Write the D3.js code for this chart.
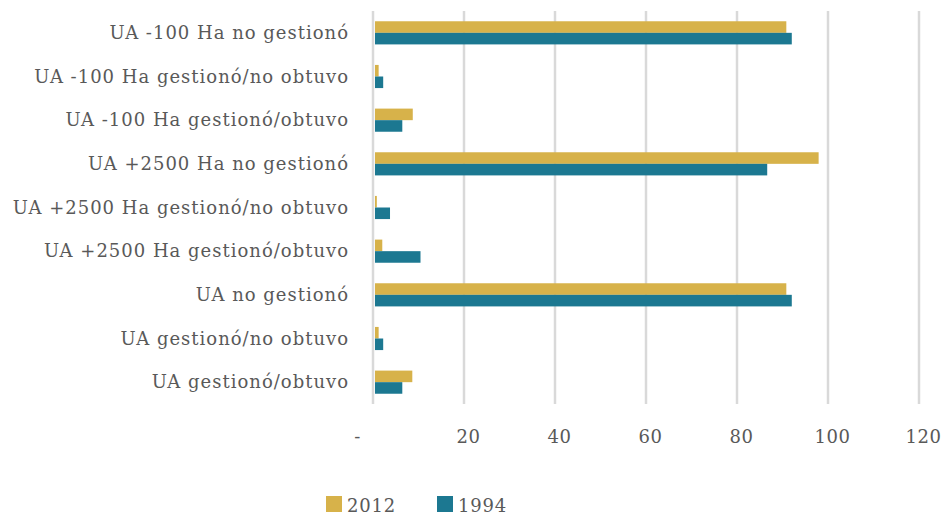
<!DOCTYPE html>
<html lang="es">
<head>
<meta charset="UTF-8">
<title>UA gestión 2012 vs 1994</title>
<script src="https://cdn.jsdelivr.net/npm/d3@7"></script>
<style>
    body{ margin:0; background:#fff; }
    text{ font-family: "DejaVu Serif", serif; fill:#595959; }
    .cat{ font-size:18px; letter-spacing:1px; }
    .tick text{ font-size:18px; letter-spacing:0.6px; }
    .leg{ font-size:18px; letter-spacing:0.8px; }
</style>
</head>
<body>
<div id="chart"></div>
<script>
    // data (top to bottom)
    const categories = [
        "UA -100 Ha no gestionó",
        "UA -100 Ha gestionó/no obtuvo",
        "UA -100 Ha gestionó/obtuvo",
        "UA +2500 Ha no gestionó",
        "UA +2500 Ha gestionó/no obtuvo",
        "UA +2500 Ha gestionó/obtuvo",
        "UA no gestionó",
        "UA gestionó/no obtuvo",
        "UA gestionó/obtuvo"
    ];
    const seriesNames = ["2012", "1994"];
    const values2012 = [90.4, 0.8, 8.3, 97.5, 0.4, 1.6, 90.4, 0.8, 8.2];
    const values1994 = [91.6, 1.8, 6.0, 86.2, 3.3, 10.0, 91.6, 1.8, 6.0];
    const xTicks = [0, 20, 40, 60, 80, 100, 120];
    const colors = ["#D7B24A", "#1C7891"];

    const width = 946, height = 515;
    const margin = {top:11, left:374, right:26, bottom:111};

    const svg = d3.select("#chart").append("svg")
        .attr("width", width).attr("height", height);

    const x = d3.scaleLinear().domain([0,120]).range([margin.left, width - margin.right]);
    const y = d3.scaleBand().domain(categories)
        .range([margin.top, height - margin.bottom])
        .paddingInner(0.47).paddingOuter(0.235);
    const ySub = d3.scaleBand().domain(seriesNames).range([0, y.bandwidth()]);

    // grid lines
    svg.append("g").selectAll("line")
        .data(xTicks)
        .join("line")
        .attr("x1", d => x(d) - 1).attr("x2", d => x(d) - 1)
        .attr("y1", margin.top).attr("y2", height - margin.bottom)
        .attr("stroke", "#d9d9d9").attr("stroke-width", 2.5);

    // bars
    const rows = categories.map((c,i) => ({cat:c, vals:[values2012[i], values1994[i]]}));
    svg.append("g").selectAll("g")
        .data(rows)
        .join("g")
        .attr("transform", d => `translate(0,${y(d.cat)})`)
        .selectAll("rect")
        .data(d => d.vals.map((v,j) => ({name:seriesNames[j], v:v, j:j})))
        .join("rect")
        .attr("x", x(0) + 1)
        .attr("y", d => ySub(d.name))
        .attr("width", d => x(d.v) - x(0))
        .attr("height", ySub.bandwidth())
        .attr("fill", d => colors[d.j]);

    // category labels
    svg.append("g").selectAll("text")
        .data(categories)
        .join("text")
        .attr("class", "cat")
        .attr("x", margin.left - 25)
        .attr("y", d => y(d) + y.bandwidth()/2)
        .attr("dy", "0.35em")
        .attr("text-anchor", "end")
        .text(d => d);

    // x axis labels
    const xAxis = d3.axisBottom(x).tickValues(xTicks).tickSize(0)
        .tickFormat(d => d === 0 ? "-" : d);
    const ax = svg.append("g")
        .attr("transform", `translate(3,${height - margin.bottom + 23})`)
        .call(xAxis);
    ax.select(".domain").remove();
    ax.selectAll(".tick").filter(d => d === 0).select("text").attr("dx", -20);

    // legend
    const legend = svg.append("g").attr("transform", "translate(326,496)");
    const items = legend.selectAll("g")
        .data(seriesNames)
        .join("g")
        .attr("transform", (d,i) => `translate(${i*111},0)`);
    items.append("rect").attr("width", 16).attr("height", 16).attr("fill", (d,i) => colors[i]);
    items.append("text").attr("class", "leg").attr("x", 21).attr("y", 15.5).text(d => d);
</script>
</body>
</html>
